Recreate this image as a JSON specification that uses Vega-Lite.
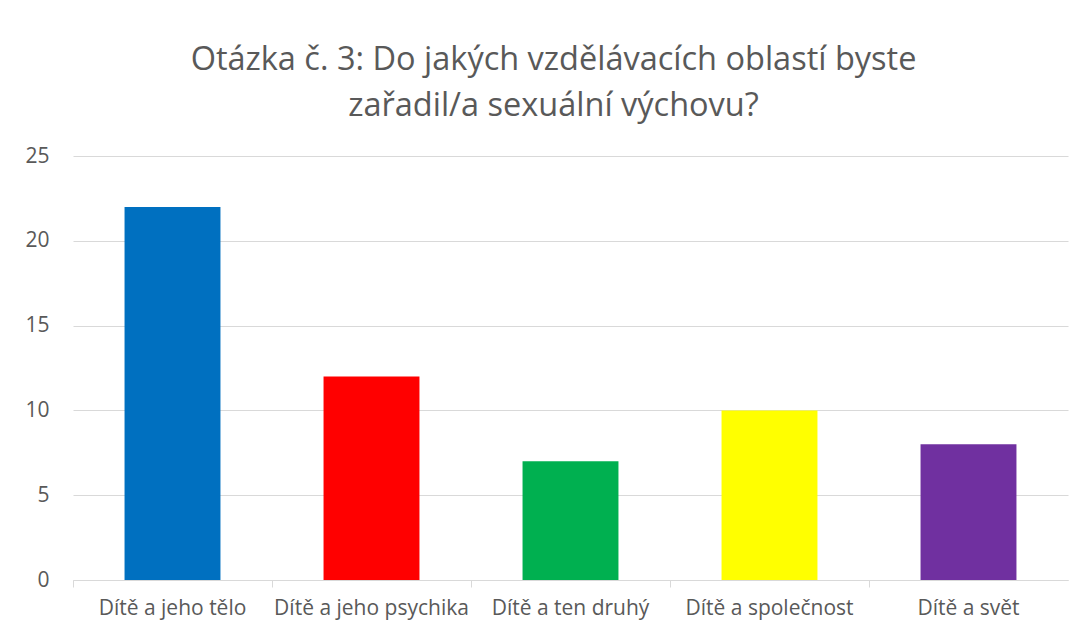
{
  "$schema": "https://vega.github.io/schema/vega-lite/v6.json",
  "autosize": "none",
  "width": 995,
  "height": 424,
  "padding": {"left": 73, "top": 156, "right": 15, "bottom": 55},
  "background": "white",
  "title": {
    "text": ["Otázka č. 3: Do jakých vzdělávacích oblastí byste", "zařadil/a sexuální výchovu?"],
    "font": "Open Sans",
    "fontSize": 32.5,
    "fontWeight": "normal",
    "color": "#595959",
    "anchor": "middle",
    "lineHeight": 46,
    "offset": 23,
    "dx": -17
  },
  "data": {
    "values": [
      {"oblast": "Dítě a jeho tělo", "pocet": 22},
      {"oblast": "Dítě a jeho psychika", "pocet": 12},
      {"oblast": "Dítě a ten druhý", "pocet": 7},
      {"oblast": "Dítě a společnost", "pocet": 10},
      {"oblast": "Dítě a svět", "pocet": 8}
    ]
  },
  "mark": {"type": "bar", "width": {"band": 0.482}},
  "encoding": {
    "x": {
      "field": "oblast",
      "type": "nominal",
      "sort": null,
      "scale": {"paddingInner": 0, "paddingOuter": 0},
      "axis": {
        "title": null,
        "labelAngle": 0,
        "labelFont": "Open Sans",
        "labelFontSize": 21,
        "labelColor": "#595959",
        "labelPadding": 10,
        "labelLimit": 0,
        "labelOverlap": false,
        "bandPosition": 0,
        "domainColor": "#d9d9d9",
        "tickColor": "#d9d9d9",
        "tickSize": 7,
        "grid": false
      }
    },
    "y": {
      "field": "pocet",
      "type": "quantitative",
      "scale": {"domain": [0, 25]},
      "axis": {
        "title": null,
        "values": [0, 5, 10, 15, 20, 25],
        "labelFont": "Open Sans",
        "labelFontSize": 21,
        "labelColor": "#595959",
        "labelPadding": 24,
        "domain": false,
        "ticks": false,
        "gridColor": "#d9d9d9",
        "gridWidth": 1
      }
    },
    "color": {
      "field": "oblast",
      "type": "nominal",
      "sort": null,
      "scale": {
        "domain": ["Dítě a jeho tělo", "Dítě a jeho psychika", "Dítě a ten druhý", "Dítě a společnost", "Dítě a svět"],
        "range": ["#0070C0", "#FF0000", "#00B050", "#FFFF00", "#7030A0"]
      },
      "legend": null
    }
  },
  "config": {"view": {"stroke": null}}
}
